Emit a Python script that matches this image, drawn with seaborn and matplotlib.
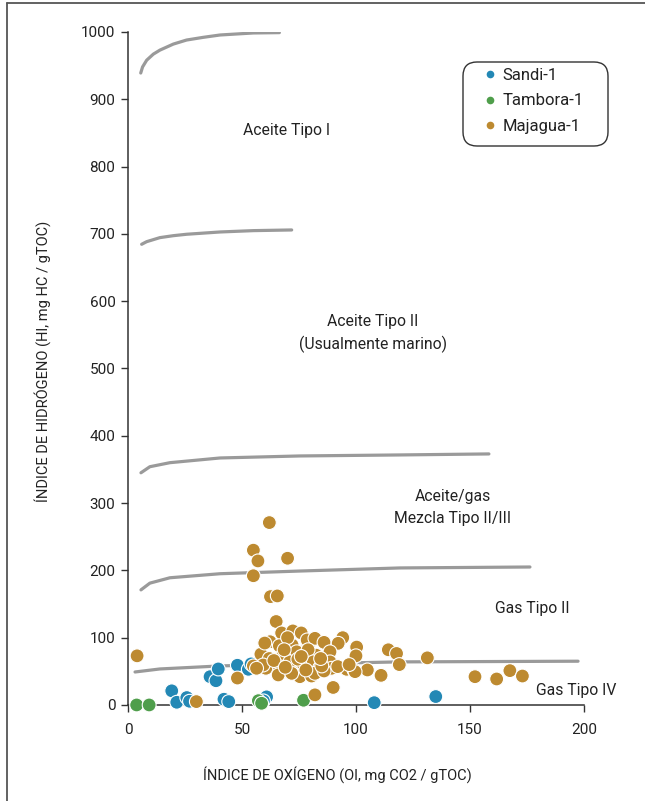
import matplotlib
matplotlib.use("Agg")
import matplotlib.pyplot as plt
from matplotlib import font_manager
from matplotlib.lines import Line2D
from matplotlib.patches import FancyBboxPatch
import seaborn as sns
import pandas as pd

# ---- sample data: oxygen index (OI) vs hydrogen index (HI) per well ----
sandi_oi = [19.2, 21.4, 25.8, 27.0, 36.0, 38.6, 39.6, 42.1, 44.2, 48.0, 52.8, 54.0,
            60.8, 59.4, 108.0, 135.0]
sandi_hi = [21, 4, 11, 5.5, 42, 36, 53.5, 8.5, 5, 59, 53, 61,
            12, 6, 3.4, 12.5]

tambora_oi = [3.8, 9.3, 57.2, 58.6, 77.0]
tambora_hi = [0, 0, 6.4, 2.5, 7]

majagua_oi = [62.0, 55.0, 57.0, 70.0, 55.0, 62.5, 65.5, 65.0, 4.0, 48.0, 30.0, 82.0,
              55.0, 67.4, 72.3, 76.0, 62.3, 66.4, 72.0, 58.3, 79.0, 78.6, 82.0, 82.5,
              62.0, 66.4, 72.2, 76.6, 60.5, 75.4, 80.5, 86.0, 94.2, 92.2, 62.0, 68.0,
              74.0, 79.0, 88.6, 100.3, 59.3, 66.4, 71.0, 81.3, 84.0, 88.6, 89.3, 95.9,
              99.1, 65.9, 71.8, 82.0, 86.0, 56.4, 90.0, 100.0, 114.2, 117.8, 119.0, 131.3,
              111.0, 105.0, 99.6, 152.2, 161.7, 167.5, 173.0,
              64.0, 69.0, 74.5, 78.0, 85.0, 92.0, 97.0, 70.0, 60.0, 76.0, 84.5, 68.5]
majagua_hi = [271, 230, 214, 218, 192, 161, 162, 124, 73, 40, 5, 15,
              58, 107, 110, 107, 94, 88, 89, 75.5, 87, 96.6, 99, 74,
              62, 47, 62, 62, 54.5, 42, 43, 93, 100, 91.6, 69, 74,
              79, 82, 79, 86, 59.4, 57, 64, 64, 54.5, 64, 54.5, 53,
              52, 44.6, 47, 47, 50.5, 54.5, 26, 73, 82, 76.5, 60, 70,
              44, 52, 49.5, 42, 38.6, 51, 43,
              66, 56, 68, 52, 58, 57, 60, 100, 92, 72, 69, 82]

wells = ["Sandi-1", "Tambora-1", "Majagua-1"]
well_colors = ["#2388B5", "#4F9E4B", "#BD8A30"]

# ---- kerogen-type boundary curves (OI, HI) ----
tipo_i_oi = [5.6, 6.4, 8.2, 11.1, 14.0, 19.9, 25.7, 33.0, 40.4, 55.0, 66.4]
tipo_i_hi = [939, 948, 958, 967, 973, 982, 988, 992, 995.5, 998.5, 999]
tipo_ii_oi = [6.0, 8.2, 11.1, 14.0, 19.9, 25.7, 40.4, 55.0, 71.8]
tipo_ii_hi = [684.5, 688.4, 691.4, 694.4, 697.3, 699.4, 702.8, 704.8, 705.8]
mezcla_oi = [5.7, 9.6, 18.4, 40.4, 75.4, 119.3, 158.3]
mezcla_hi = [345, 354, 360, 367, 370, 371.5, 373]
gas_ii_oi = [5.7, 9.6, 18.4, 40.4, 75.4, 119.3, 176.3]
gas_ii_hi = [171, 181, 189, 195, 199, 203.6, 205]
gas_iv_oi = [3.1, 14.0, 40.4, 75.4, 119.3, 197.4]
gas_iv_hi = [49, 53.5, 58, 61, 64, 65]

region_labels = ["Aceite Tipo I", "Aceite Tipo II\n(Usualmente marino)",
                 "Aceite/gas\nMezcla Tipo II/III", "Gas Tipo II", "Gas Tipo IV"]
region_oi = [69.5, 107.5, 142.5, 177.5, 196.7]
region_hi = [853, 552, 293.5, 144, 21]

x_ticks = [0, 50, 100, 150, 200]
y_ticks = [0, 100, 200, 300, 400, 500, 600, 700, 800, 900, 1000]

# ---- styling ----
sns.set_theme(style="white")
names = {f.name for f in font_manager.fontManager.ttflist}
base_font = "Liberation Sans Narrow" if "Liberation Sans Narrow" in names else "Roboto"
plt.rcParams["font.family"] = [base_font, "DejaVu Sans"]
text_color = "#222222"

df = pd.DataFrame({
    "OI": sandi_oi + tambora_oi + majagua_oi,
    "HI": sandi_hi + tambora_hi + majagua_hi,
    "Pozo": [wells[0]] * len(sandi_oi) + [wells[1]] * len(tambora_oi)
            + [wells[2]] * len(majagua_oi),
})

fig = plt.figure(figsize=(6.45, 8.01), dpi=100)
ax = fig.add_axes([0.1984, 0.1199, 0.707, 0.8402])

curve_color = "#9A9A9A"
for cx, cy in [(tipo_i_oi, tipo_i_hi), (tipo_ii_oi, tipo_ii_hi), (mezcla_oi, mezcla_hi),
               (gas_ii_oi, gas_ii_hi), (gas_iv_oi, gas_iv_hi)]:
    sns.lineplot(x=cx, y=cy, ax=ax, color=curve_color, lw=2.3, sort=False,
                 estimator=None, solid_capstyle="round", solid_joinstyle="round")

sns.scatterplot(data=df, x="OI", y="HI", hue="Pozo", hue_order=wells,
                palette=well_colors, s=100, edgecolor="white", linewidth=0.8,
                ax=ax, clip_on=False, zorder=3, legend=False)

for txt, x, y in zip(region_labels, region_oi, region_hi):
    ax.text(x, y, txt, ha="center", va="center", fontsize=11.3, color=text_color,
            linespacing=1.55)

ax.set_xlim(0, 200)
ax.set_ylim(0, 1000)
ax.set_xticks(x_ticks)
ax.set_yticks(y_ticks)
ax.tick_params(axis="both", which="major", length=5, width=1, color="#333333",
               labelsize=11, labelcolor=text_color, direction="out",
               bottom=True, left=True, pad=4)
ax.tick_params(axis="x", pad=8)
for side in ["top", "right"]:
    ax.spines[side].set_visible(False)
for side in ["left", "bottom"]:
    ax.spines[side].set_color("#333333")
    ax.spines[side].set_linewidth(1.1)

ax.set_xlabel("ÍNDICE DE OXÍGENO (OI, mg CO2 / gTOC)", fontsize=10.5, color=text_color)
ax.set_ylabel("ÍNDICE DE HIDRÓGENO (HI, mg HC / gTOC)", fontsize=10.5, color=text_color)
ax.xaxis.set_label_coords(0.46, -0.091)
ax.yaxis.set_label_coords(-0.169, 0.51)

# legend: rounded frame drawn in figure inches, entries from a frameless legend
inch = fig.dpi_scale_trans
fig.add_artist(FancyBboxPatch((4.63, 6.55), 1.45, 0.84,
                              boxstyle="round,pad=0,rounding_size=0.14",
                              transform=inch, facecolor="white",
                              edgecolor="#333333", linewidth=1.0, zorder=4))
handles = [Line2D([], [], marker="o", ls="", markersize=5.5, markerfacecolor=c,
                  markeredgecolor="none") for c in well_colors]
leg = fig.legend(handles, wells, loc="upper left", bbox_to_anchor=(4.83, 7.33),
                 bbox_transform=inch, frameon=False, fontsize=12,
                 handletextpad=0.36, labelspacing=0.62, borderpad=0,
                 handlelength=0.8, borderaxespad=0)
leg.set_zorder(5)
for t in leg.get_texts():
    t.set_color(text_color)

# page frame lines (top and left)
fig.add_artist(Line2D([0.011, 1.0], [0.996, 0.996], transform=fig.transFigure,
                      color="#555555", lw=1.3))
fig.add_artist(Line2D([0.011, 0.011], [0.0, 0.996], transform=fig.transFigure,
                      color="#555555", lw=1.3))

fig.savefig("out.png", dpi=100, facecolor="white")
